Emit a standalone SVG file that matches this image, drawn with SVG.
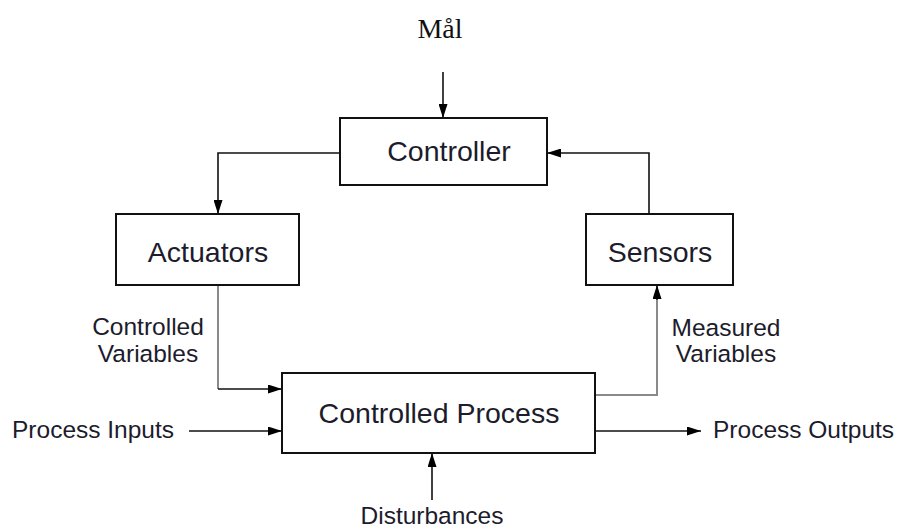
<svg xmlns="http://www.w3.org/2000/svg" width="900" height="530" viewBox="0 0 900 530">
  <style>
    .box { fill: #fff; stroke: #111; stroke-width: 2; }
    .big { font-family: "Liberation Sans", Arial, sans-serif; font-size: 28.5px; fill: #1c1c2c; text-anchor: middle; }
    .lbl { font-family: "Liberation Sans", Arial, sans-serif; font-size: 24.5px; fill: #1c1c2c; }
    .wire { fill: none; stroke: #111; stroke-width: 1.6; }
    .wire-grey { fill: none; stroke: #8a8a8a; stroke-width: 2; }
  </style>
  <defs>
    <marker id="arrow" viewBox="0 0 14 9" refX="14" refY="4.5" markerWidth="14" markerHeight="9" markerUnits="userSpaceOnUse" orient="auto">
      <path d="M0,0 L14,4.5 L0,9 Z" fill="#000"/>
    </marker>
  </defs>
  <rect width="900" height="530" fill="#fff"/>

  <!-- goal label -->
  <text x="440" y="38" font-family="'Liberation Serif', 'Times New Roman', serif" font-size="28" fill="#111" text-anchor="middle">Mål</text>

  <g id="connectors">
    <!-- goal into controller -->
    <path class="wire" d="M443,72 V118" marker-end="url(#arrow)"/>
    <!-- controller to actuators -->
    <path class="wire" d="M340,153 H218 V214" marker-end="url(#arrow)"/>
    <!-- actuators to process (controlled variables) -->
    <path class="wire-grey" d="M218,285 V389"/>
    <path class="wire" d="M218,389 H282" marker-end="url(#arrow)"/>
    <!-- process inputs -->
    <path class="wire" d="M189,431 H282" marker-end="url(#arrow)"/>
    <!-- process outputs -->
    <path class="wire" d="M595,431 H701" marker-end="url(#arrow)"/>
    <!-- process to sensors (measured variables) -->
    <path class="wire-grey" d="M595,395 H657 V300"/>
    <path class="wire" d="M657,300 V285" marker-end="url(#arrow)"/>
    <!-- sensors to controller -->
    <path class="wire" d="M649,214 V153 H547" marker-end="url(#arrow)"/>
    <!-- disturbances -->
    <path class="wire" d="M432,500 V453" marker-end="url(#arrow)"/>
  </g>

  <g id="controller">
    <rect class="box" x="340" y="118" width="207" height="67"/>
    <text class="big" x="449" y="161">Controller</text>
  </g>

  <g id="actuators">
    <rect class="box" x="116" y="214" width="183" height="71"/>
    <text class="big" x="208" y="262">Actuators</text>
  </g>

  <g id="sensors">
    <rect class="box" x="586" y="214" width="147" height="71"/>
    <text class="big" x="660" y="262">Sensors</text>
  </g>

  <g id="controlled-process">
    <rect class="box" x="282" y="373" width="313" height="80"/>
    <text class="big" x="439" y="423">Controlled Process</text>
  </g>

  <g id="labels">
    <text class="lbl" x="148" y="335" text-anchor="middle">Controlled</text>
    <text class="lbl" x="148" y="362" text-anchor="middle">Variables</text>
    <text class="lbl" x="726" y="336" text-anchor="middle">Measured</text>
    <text class="lbl" x="726" y="362" text-anchor="middle">Variables</text>
    <text class="lbl" x="12" y="438">Process Inputs</text>
    <text class="lbl" x="713" y="438">Process Outputs</text>
    <text class="lbl" x="432" y="524" text-anchor="middle">Disturbances</text>
  </g>
</svg>
